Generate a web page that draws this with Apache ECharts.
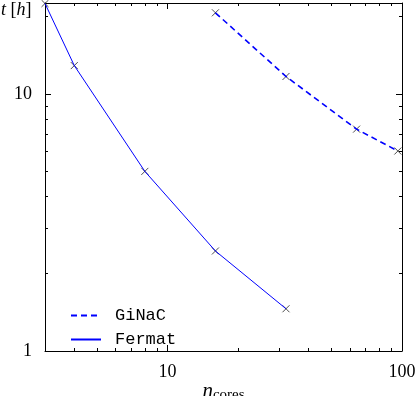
<!DOCTYPE html>
<html><head><meta charset="utf-8">
<script src="https://cdn.jsdelivr.net/npm/echarts@6/dist/echarts.min.js"></script>
<style>html,body{margin:0;padding:0;background:#fff}#c{width:415px;height:396px}</style>
</head><body><div id="c"></div>
<script>
const coresGiNaC = [16, 32, 64, 96];
const timeGiNaC = [20.7, 11.7, 7.3, 6.0];
const coresFermat = [3, 4, 8, 16, 32];
const timeFermat = [22.5, 12.9, 5.0, 2.45, 1.46];
const xMajorTicks = [10, 100];
const xMinorTicks = [3, 4, 5, 6, 7, 8, 9, 20, 30, 40, 50, 60, 70, 80, 90];
const yMajorTicks = [1, 10];
const yMinorTicks = [2, 3, 4, 5, 6, 7, 8, 9, 20];

const XMIN = 3, XMAX = 100, YMIN = 1, YMAX = 22.6;
const serif = 'Liberation Serif';
const lineCol = '#0000ff';
const axisCol = '#000';

function pairs(xs, ys) { return xs.map((x, i) => [x, ys[i]]); }

function xAx(grid, pos, ticks, len, showLine, labels) {
  return {
    type: 'log', gridIndex: grid, position: pos, min: XMIN, max: XMAX, logBase: 10,
    axisLine: { show: showLine, lineStyle: { color: axisCol, width: 1 } },
    axisTick: { show: true, inside: true, length: len, customValues: ticks, lineStyle: { color: axisCol, width: 1 } },
    axisLabel: labels ? { show: true, customValues: ticks, margin: 12, color: '#000', fontFamily: serif, fontSize: 18 } : { show: false },
    splitLine: { show: false }, minorTick: { show: false }
  };
}
function yAx(grid, pos, ticks, len, showLine, labels) {
  return {
    type: 'log', gridIndex: grid, position: pos, min: YMIN, max: YMAX, logBase: 10,
    axisLine: { show: showLine, lineStyle: { color: axisCol, width: 1 } },
    axisTick: { show: true, inside: true, length: len, customValues: ticks, lineStyle: { color: axisCol, width: 1 } },
    axisLabel: labels ? { show: true, customValues: ticks, margin: 13, color: '#000', fontFamily: serif, fontSize: 18 } : { show: false },
    splitLine: { show: false }, minorTick: { show: false }
  };
}

const xAxes = [
  xAx(0, 'bottom', xMajorTicks, 6, true, true),
  xAx(0, 'top', xMajorTicks, 6, true, false),
  xAx(1, 'bottom', xMinorTicks, 3, false, false),
  xAx(1, 'top', xMinorTicks, 3, false, false)
];
xAxes[0].name = '{n|n}{s|cores}';
xAxes[0].nameLocation = 'middle';
xAxes[0].nameGap = 28;
xAxes[0].nameMoveOverlap = false;
xAxes[0].nameTextStyle = {
  rich: {
    n: { fontFamily: serif, fontStyle: 'italic', fontSize: 21, color: '#000' },
    s: { fontFamily: serif, fontSize: 15, color: '#000', padding: [9, 0, 0, 0] }
  }
};
const yAxes = [
  yAx(0, 'left', yMajorTicks, 6, true, true),
  yAx(0, 'right', yMajorTicks, 6, true, false),
  yAx(1, 'left', yMinorTicks, 3, false, false),
  yAx(1, 'right', yMinorTicks, 3, false, false)
];

const crossSymbol = 'path://M0,0L10,10M10,0L0,10';
const markerStyle = { color: 'none', borderColor: '#222', borderWidth: 1 };
const gridBox = { left: 45, right: 13, top: 3, bottom: 45, outerBoundsMode: 'none', containLabel: false };

const option = {
  animation: false,
  backgroundColor: '#fff',
  grid: [Object.assign({}, gridBox), Object.assign({}, gridBox)],
  xAxis: xAxes,
  yAxis: yAxes,
  legend: {
    orient: 'vertical', left: 65, top: 302,
    itemWidth: 30, itemHeight: 14, itemGap: 7,
    data: ['GiNaC', 'Fermat'],
    itemStyle: { opacity: 0 },
    textStyle: { fontFamily: 'Liberation Mono', fontSize: 17, color: '#000', lineHeight: 14, padding: [0, 0, 0, 9] }
  },
  graphic: [{
    type: 'text', left: 1, top: 1,
    style: {
      text: '{i|t} [{i|h}]',
      font: '18px "Liberation Serif"', fill: '#000',
      rich: { i: { fontFamily: serif, fontStyle: 'italic', fontSize: 18, fill: '#000' } }
    }
  }],
  series: [
    {
      name: 'GiNaC', type: 'line', xAxisIndex: 0, yAxisIndex: 0,
      data: pairs(coresGiNaC, timeGiNaC), symbol: 'none',
      lineStyle: { color: lineCol, width: 1.6, type: [6, 4] }, itemStyle: { color: lineCol }
    },
    {
      name: 'Fermat', type: 'line', xAxisIndex: 0, yAxisIndex: 0,
      data: pairs(coresFermat, timeFermat), symbol: 'none',
      lineStyle: { color: lineCol, width: 1 }, itemStyle: { color: lineCol }
    },
    {
      name: 'GiNaC pts', type: 'scatter', xAxisIndex: 0, yAxisIndex: 0, clip: false,
      data: pairs(coresGiNaC, timeGiNaC), symbol: crossSymbol, symbolSize: 7, itemStyle: markerStyle
    },
    {
      name: 'Fermat pts', type: 'scatter', xAxisIndex: 0, yAxisIndex: 0, clip: false,
      data: pairs(coresFermat, timeFermat), symbol: crossSymbol, symbolSize: 7, itemStyle: markerStyle
    }
  ]
};
const chart = echarts.init(document.getElementById('c'), null, { renderer: 'canvas' });
chart.setOption(option);
</script>
</body></html>
